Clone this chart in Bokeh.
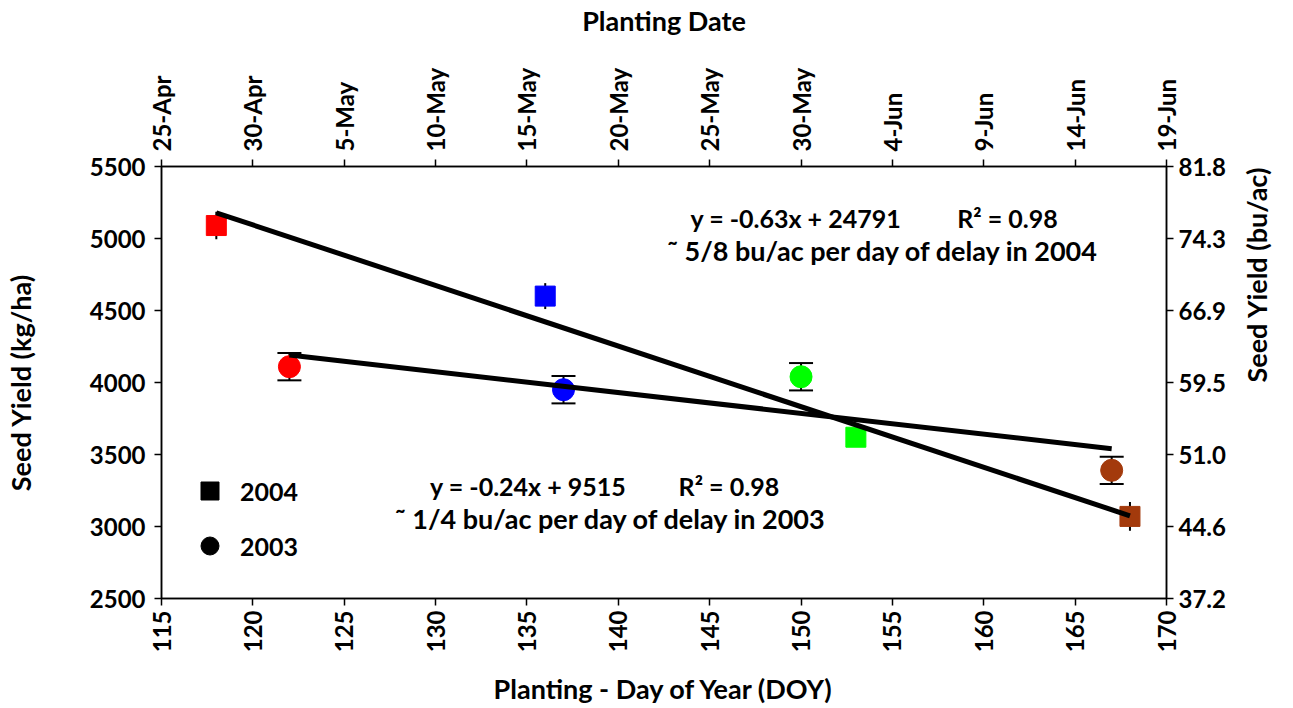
import math
import numpy as np
from bokeh.plotting import figure
from bokeh.models import (LinearAxis, FixedTicker, Whisker, ColumnDataSource, Label,
                          Legend, LegendItem, TeeHead)
from bokeh.embed import file_html
from bokeh.resources import INLINE

# ---------------- data ----------------
doy_2004 = [118, 136, 153, 168]
yield_2004 = [5090, 4600, 3620, 3070]
err_2004 = [95, 90, 65, 100]

doy_2003 = [122, 137, 150, 167]
yield_2003 = [4110, 3950, 4040, 3390]
err_2003 = [95, 95, 95, 95]

point_colors = ["#ff0000", "#0000ff", "#00ff00", "#a33a0c"]

doy_ticks = [115, 120, 125, 130, 135, 140, 145, 150, 155, 160, 165, 170]
date_labels = ["25-Apr", "30-Apr", "5-May", "10-May", "15-May", "20-May",
               "25-May", "30-May", "4-Jun", "9-Jun", "14-Jun", "19-Jun"]
kg_ticks = [2500, 3000, 3500, 4000, 4500, 5000, 5500]
bu_labels = ["37.2", "44.6", "51.0", "59.5", "66.9", "74.3", "81.8"]

eq_2004 = "y = -0.63x + 24791"
r2_2004 = "R\u00b2 = 0.98"
note_2004 = "\u02dc 5/8 bu/ac per day of delay in 2004"
eq_2003 = "y = -0.24x + 9515"
r2_2003 = "R\u00b2 = 0.98"
note_2003 = "\u02dc 1/4 bu/ac per day of delay in 2003"

FONT = "Lato"

# ---------------- figure ----------------
p = figure(width=1293, height=708, x_range=(115, 170), y_range=(2500, 5500),
           output_backend="svg", toolbar_location=None,
           min_border_left=161, min_border_right=127,
           min_border_top=166, min_border_bottom=108)
p.grid.visible = False
p.outline_line_color = "black"
p.outline_line_width = 1.5
p.background_fill_color = "white"
p.border_fill_color = "white"


def style_axis(ax, size="24px"):
    ax.axis_line_color = "black"
    ax.axis_line_width = 1.5
    ax.major_tick_line_color = "black"
    ax.major_tick_line_width = 1.5
    ax.major_tick_out = 7
    ax.major_tick_in = 0
    ax.minor_tick_line_color = None
    ax.major_label_text_font = FONT
    ax.major_label_text_font_style = "bold"
    ax.major_label_text_font_size = size
    ax.major_label_text_color = "black"
    ax.axis_label_text_font = FONT
    ax.axis_label_text_font_style = "bold"
    ax.axis_label_text_font_size = "27px"
    ax.axis_label_text_color = "black"


# bottom axis
xb = p.xaxis[0]
xb.ticker = FixedTicker(ticks=doy_ticks)
xb.major_label_orientation = math.pi / 2
xb.axis_label = "Planting - Day of Year (DOY)"
style_axis(xb)
xb.major_label_standoff = 5
xb.axis_label_standoff = 17

# left axis
yl = p.yaxis[0]
yl.ticker = FixedTicker(ticks=kg_ticks)
yl.axis_label = "Seed Yield (kg/ha)"
style_axis(yl)
yl.major_label_standoff = 9
yl.axis_label_standoff = 50

# top axis
xt = LinearAxis(ticker=FixedTicker(ticks=doy_ticks),
                major_label_overrides={t: s for t, s in zip(doy_ticks, date_labels)},
                axis_label="Planting Date")
style_axis(xt)
xt.major_label_orientation = math.pi / 2
xt.major_label_standoff = 8
xt.axis_label_standoff = 28
p.add_layout(xt, "above")

# right axis
yr = LinearAxis(ticker=FixedTicker(ticks=kg_ticks),
                major_label_overrides={t: s for t, s in zip(kg_ticks, bu_labels)},
                axis_label="Seed Yield (bu/ac)")
style_axis(yr)
yr.major_label_standoff = 5
yr.axis_label_standoff = 28
yr.axis_label_orientation = math.pi / 2
p.add_layout(yr, "right")

# ---------------- error bars ----------------
src04 = ColumnDataSource(dict(x=doy_2004, y=yield_2004,
                              lo=[v - e for v, e in zip(yield_2004, err_2004)],
                              hi=[v + e for v, e in zip(yield_2004, err_2004)],
                              c=point_colors))
src03 = ColumnDataSource(dict(x=doy_2003, y=yield_2003,
                              lo=[v - e for v, e in zip(yield_2003, err_2003)],
                              hi=[v + e for v, e in zip(yield_2003, err_2003)],
                              c=point_colors))

w04 = Whisker(source=src04, base="x", lower="lo", upper="hi",
              line_color="black", line_width=2, upper_head=None, lower_head=None)
w03 = Whisker(source=src03, base="x", lower="lo", upper="hi",
              line_color="black", line_width=2,
              upper_head=TeeHead(size=24, line_width=2, line_color="black"),
              lower_head=TeeHead(size=24, line_width=2, line_color="black"))
p.add_layout(w04)
p.add_layout(w03)

# ---------------- points ----------------
p.scatter("x", "y", source=src04, marker="square", size=20,
          fill_color="c", line_color="c")
p.scatter("x", "y", source=src03, marker="circle", size=22,
          fill_color="c", line_color="c")

# ---------------- regression lines (fit from the data) ----------------
for xs, ys in ((doy_2004, yield_2004), (doy_2003, yield_2003)):
    m, b = np.polyfit(xs, ys, 1)
    lx = [min(xs), max(xs)]
    ly = [m * v + b for v in lx]
    p.line(lx, ly, line_color="black", line_width=5)

# ---------------- annotations ----------------
def add_text(txt, x, y, align="left", size="25px"):
    p.add_layout(Label(x=x, y=y, text=txt, text_font=FONT, text_font_style="bold",
                       text_font_size=size, text_color="black",
                       text_align=align, text_baseline="middle"))

add_text(eq_2004, 143.95, 5140)
add_text(r2_2004, 158.55, 5140)
add_text(note_2004, 154.5, 4919, "center", "27px")
add_text(eq_2003, 129.7, 3281)
add_text(r2_2003, 143.3, 3281)
add_text(note_2003, 139.6, 3053, "center", "27px")

# ---------------- legend ----------------
r_sq = p.scatter(x=[float("nan")], y=[float("nan")], marker="square", color="black")
r_ci = p.scatter(x=[float("nan")], y=[float("nan")], marker="circle", color="black")
legend = Legend(items=[LegendItem(label="2004", renderers=[r_sq]),
                       LegendItem(label="2003", renderers=[r_ci])],
                location=(26, 30), glyph_width=45, glyph_height=45, spacing=10,
                label_standoff=8, padding=0, margin=0,
                border_line_color=None, background_fill_alpha=0,
                label_text_font=FONT, label_text_font_style="bold",
                label_text_font_size="25px", label_text_color="black")
p.add_layout(legend)

open("out.html", "w").write(file_html(p, INLINE))
